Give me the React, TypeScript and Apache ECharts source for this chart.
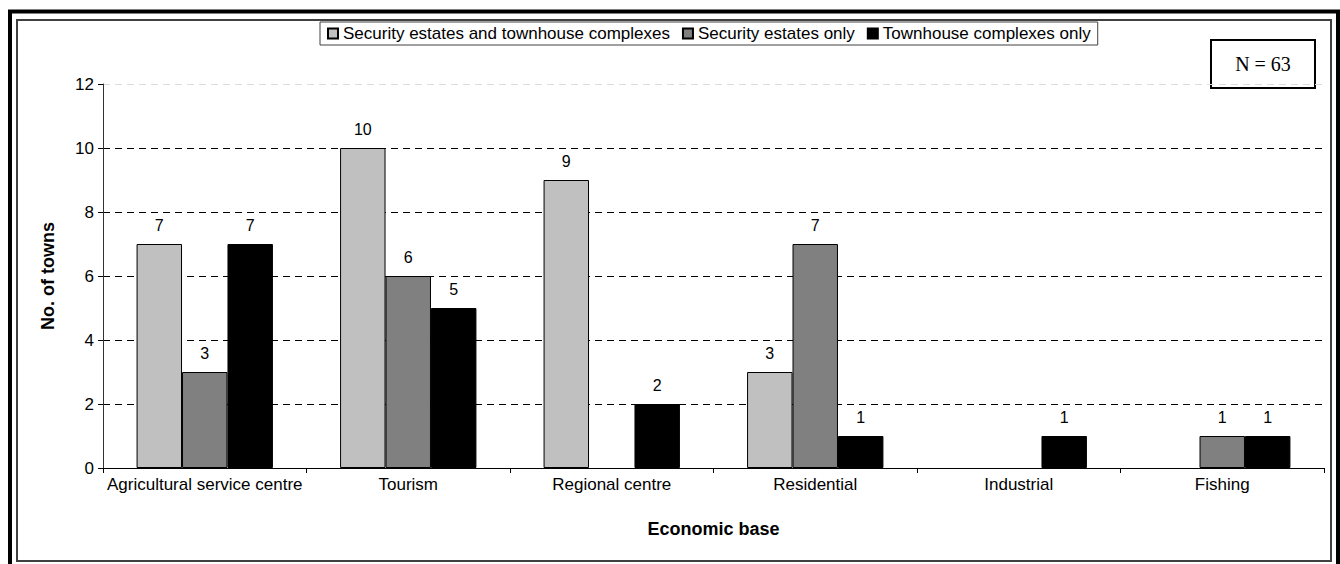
import React, { useEffect, useRef } from "react";
import * as echarts from "echarts";

const categories = [
  "Agricultural service centre",
  "Tourism",
  "Regional centre",
  "Residential",
  "Industrial",
  "Fishing",
];
const seriesNames = [
  "Security estates and townhouse complexes",
  "Security estates only",
  "Townhouse complexes only",
];
const bothValues = [7, 10, 9, 3, null, null];
const securityOnlyValues = [3, 6, null, 7, null, 1];
const townhouseOnlyValues = [7, 5, 2, 1, 1, 1];
const seriesColors = ["#C0C0C0", "#808080", "#000000"];
const yTicks = { min: 0, max: 12, interval: 2 };
const noteText = "N = 63";

export default function App() {
  const ref = useRef<HTMLDivElement>(null);
  useEffect(() => {
    if (!ref.current) return;
    const chart = echarts.init(ref.current, null, { renderer: "svg" });
    const values = [bothValues, securityOnlyValues, townhouseOnlyValues];
    const font = "Liberation Sans, Arial, sans-serif";
    chart.setOption({
      animation: false,
      backgroundColor: "#fff",
      textStyle: { fontFamily: font },
      legend: {
        left: 320,
        top: 22,
        padding: [3, 7, 3, 7],
        borderColor: "#404040",
        borderWidth: 1,
        itemWidth: 10,
        itemHeight: 10,
        itemGap: 12,
        icon: "rect",
        textStyle: { fontSize: 17, color: "#000", fontFamily: font },
        data: seriesNames,
      },
      grid: { left: 103, top: 84, right: 16, bottom: 96, containLabel: false },
      xAxis: {
        type: "category",
        data: categories,
        name: "Economic base",
        nameLocation: "middle",
        nameGap: 52,
        nameTextStyle: { fontSize: 18, fontWeight: "bold", color: "#000" },
        axisLine: { lineStyle: { color: "#000", width: 1 } },
        axisTick: { show: true, length: 5, alignWithLabel: false, lineStyle: { color: "#000" } },
        axisLabel: { fontSize: 17, color: "#000", margin: 8, interval: 0 },
      },
      yAxis: {
        type: "value",
        min: yTicks.min,
        max: yTicks.max,
        interval: yTicks.interval,
        name: "No. of towns",
        nameLocation: "middle",
        nameGap: 46,
        nameTextStyle: { fontSize: 18, fontWeight: "bold", color: "#000" },
        axisLine: { show: true, lineStyle: { color: "#333", width: 1 } },
        axisTick: { show: true, length: 5, lineStyle: { color: "#000" } },
        axisLabel: { fontSize: 17, color: "#000", margin: 9 },
        splitLine: {
          show: true,
          lineStyle: {
            type: [7, 5],
            width: 1,
            color: ["#000", "#000", "#000", "#000", "#000", "#000", "#ddd"],
          },
        },
      },
      series: seriesNames.map((name, i) => ({
        name,
        type: "bar",
        data: values[i],
        barGap: "0%",
        barCategoryGap: "33%",
        itemStyle: { color: seriesColors[i], borderColor: "#000", borderWidth: 1 },
        label: {
          show: true,
          position: "top",
          distance: 11,
          fontSize: 16,
          color: "#000",
          fontFamily: font,
        },
      })),
      graphic: [
        {
          type: "rect",
          shape: { x: 10, y: 11.5, width: 1328, height: 600 },
          style: { fill: "none", stroke: "#000", lineWidth: 4 },
          silent: true,
        },
        {
          type: "rect",
          shape: { x: 17, y: 20, width: 1314, height: 541 },
          style: { fill: "none", stroke: "#404040", lineWidth: 2 },
          silent: true,
        },
        {
          type: "rect",
          shape: { x: 1211, y: 40, width: 104, height: 48 },
          style: { fill: "#fff", stroke: "#000", lineWidth: 2 },
          silent: true,
        },
        {
          type: "text",
          x: 1263,
          y: 64,
          style: {
            text: noteText,
            font: "20px 'Liberation Serif', 'Times New Roman', serif",
            fill: "#000",
            align: "center",
            verticalAlign: "middle",
          },
          silent: true,
        },
      ],
    });
    return () => chart.dispose();
  }, []);
  return (
    <div
      ref={ref}
      style={{ position: "fixed", left: 0, top: 0, width: 1340, height: 564 }}
    />
  );
}
